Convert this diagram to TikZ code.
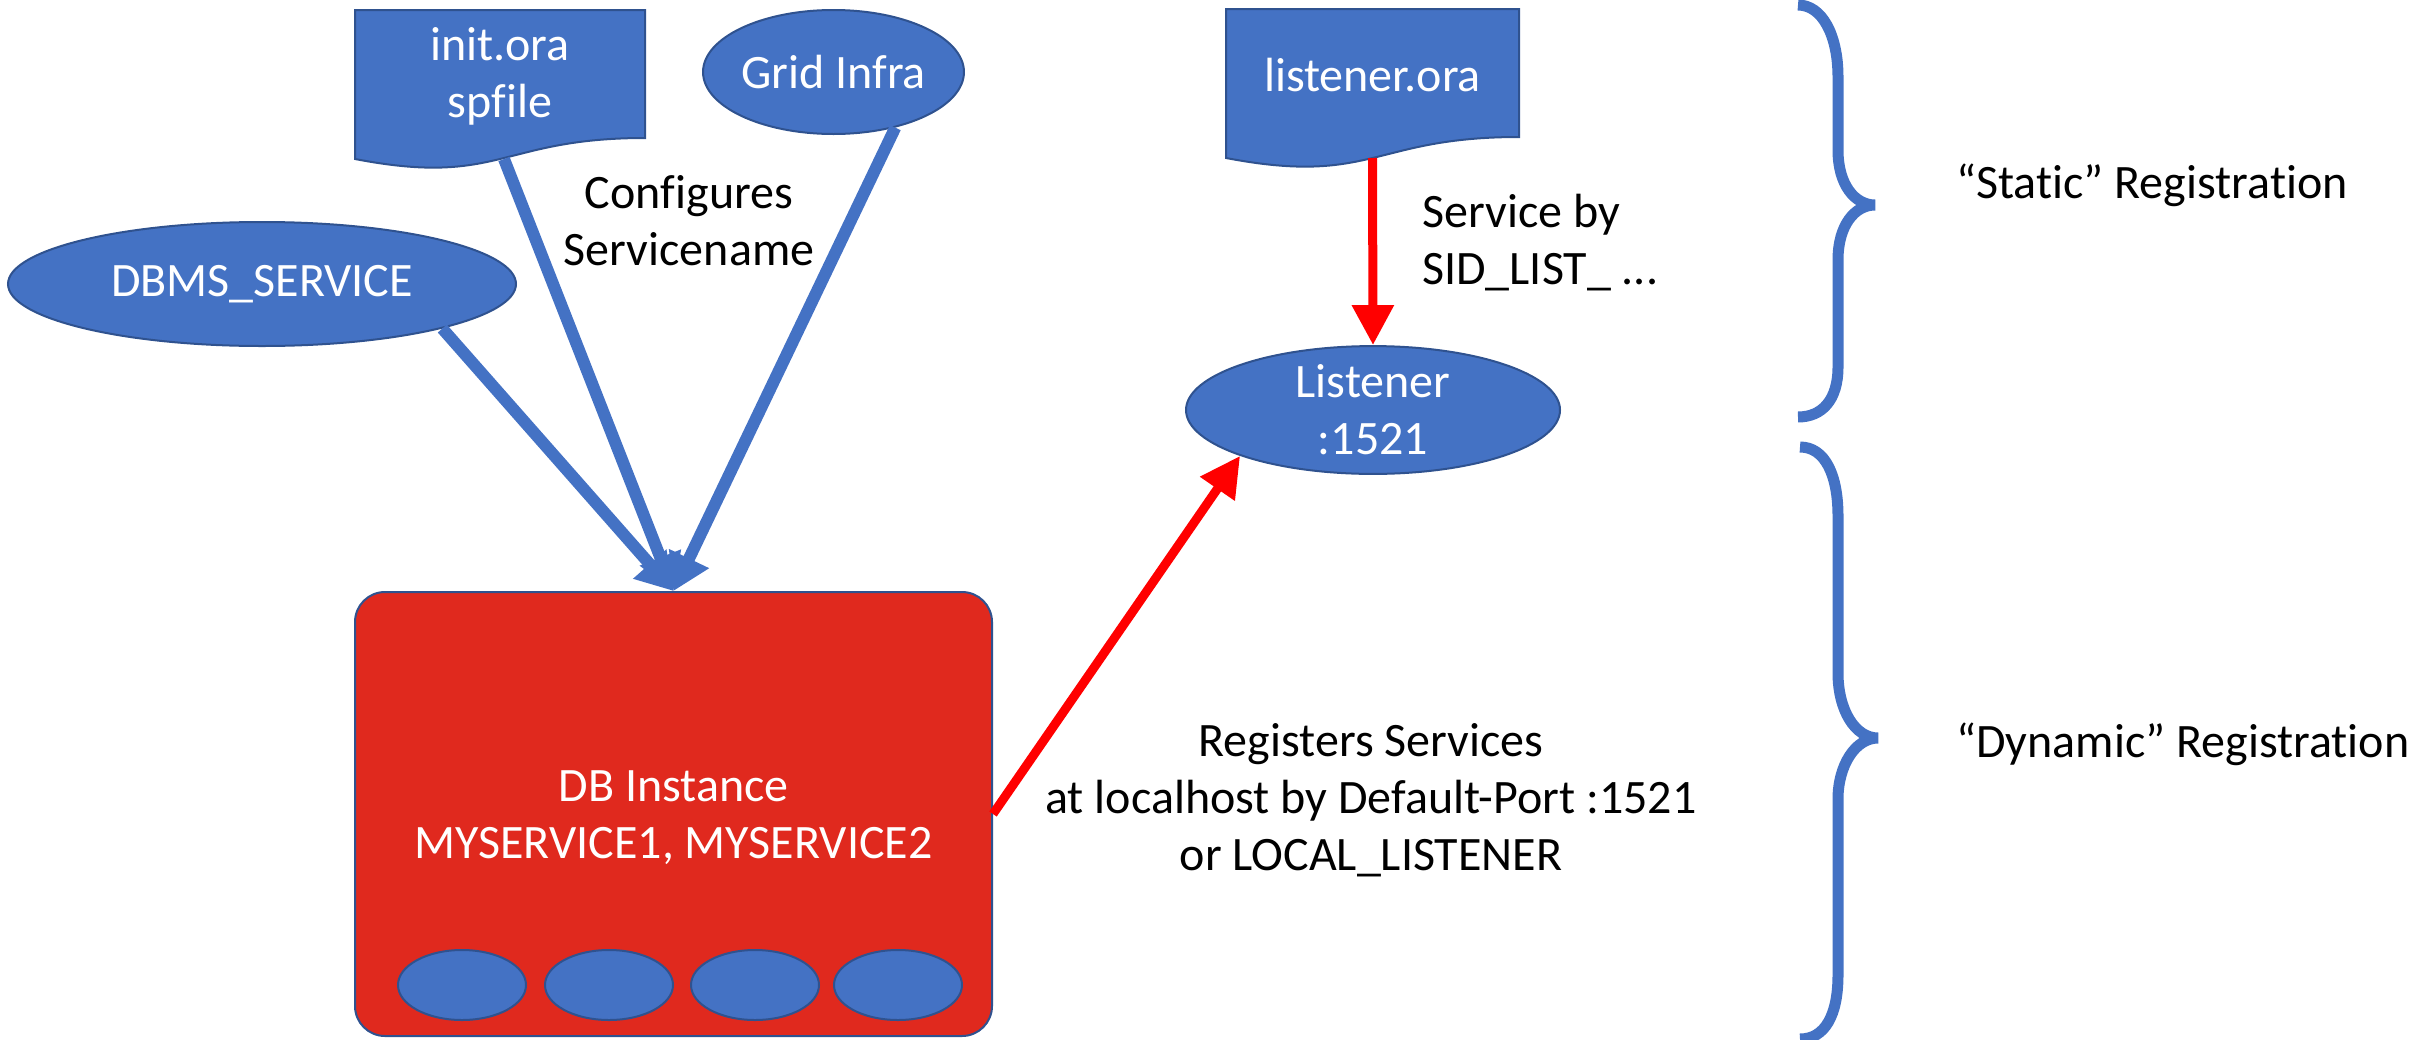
\documentclass[tikz,border=0pt]{standalone}
\usepackage{fontspec}
\setmainfont{Carlito}[Ligatures=NoCommon]
\usetikzlibrary{arrows.meta,shapes.geometric}
\definecolor{oblue}{RGB}{68,114,196}
\definecolor{oborder}{RGB}{47,82,143}
\definecolor{ored}{RGB}{224,41,30}
\definecolor{pured}{RGB}{255,0,0}
\begin{document}
\begin{tikzpicture}[x=1pt,y=-1pt,
  txt/.style={font=\fontsize{48}{57}\selectfont, align=center, inner sep=0pt},
  blob/.style={ellipse, fill=oblue, draw=oborder, line width=2pt, text=white, inner sep=0pt,
    font=\fontsize{48}{57}\selectfont, align=center},
  docshape/.style={fill=oblue, draw=oborder, line width=2pt},
  bluearrow/.style={draw=oblue, line width=12pt, -{Triangle[length=36pt,width=42pt]}},
  redarrow/.style={draw=pured, line width=9pt, -{Triangle[length=40pt,width=40pt]}},
  bracestyle/.style={draw=oblue, line width=11pt},
  smallcirc/.style={ellipse, fill=oblue, draw=oborder, line width=2pt, minimum width=128pt, minimum height=70pt, inner sep=0pt}
]
\useasboundingbox (0,0) rectangle (2436,1039);

% documents
\path[docshape] (355,10) -- (645,10) -- (645,138) .. controls (500,138) and (500,187) .. (355,159) -- cycle;
\node[txt, text=white] (initora) at (500,76) {init.ora\\spfile};
\coordinate (initbot) at (504,159);

\path[docshape] (1226,9) -- (1519,9) -- (1519,137) .. controls (1372.5,137) and (1372.5,186) .. (1226,158) -- cycle;
\node[txt, text=white] (lora) at (1372.5,75) {listener.ora};
\coordinate (lorabot) at (1372.5,158);

% ellipses
\node[blob, minimum width=247pt, minimum height=124pt] (grid) at (833.5,72) {Grid Infra};
\node[blob, minimum width=508pt, minimum height=124pt] (dbms) at (262,284) {DBMS\_SERVICE};
\node[blob, minimum width=374pt, minimum height=124pt] (listener) at (1373,410) {Listener\\:1521};

% DB instance
\node[rectangle, rounded corners=30pt, fill=ored, draw=oborder, line width=2pt,
  minimum width=637pt, minimum height=444pt, inner sep=0pt] (db) at (673.5,814) {};
\node[txt, text=white] (dbtext) at (673.5,818) {DB Instance\\MYSERVICE1, MYSERVICE2};
\node[smallcirc] (c1) at (462,985) {};
\node[smallcirc] (c2) at (609,985) {};
\node[smallcirc] (c3) at (755,985) {};
\node[smallcirc] (c4) at (898,985) {};

% blue arrows
\draw[bluearrow] (dbms.south east) -- (db.north);
\draw[bluearrow] (initbot) -- (db.north);
\draw[bluearrow] (grid.-42) -- (db.north);

% red arrows
\draw[redarrow] (lorabot) -- (listener.north);
\draw[redarrow] (db.east) -- (listener.south west);

% labels
\node[txt] (conf) at (689,221) {Configures\\Servicename};
\node[txt, anchor=west, align=left] (svcby) at (1422,243) {Service by\\SID\_LIST\_ ...};
\node[txt] (reg) at (1371,800) {Registers Services\\at localhost by Default-Port :1521\\or LOCAL\_LISTENER};

% braces
\draw[bracestyle] (1798,5) .. controls (1822,5) and (1838,35) .. (1838,77) -- (1838,150)
  .. controls (1838,185) and (1855,205) .. (1875,205)
  .. controls (1855,205) and (1838,225) .. (1838,260) -- (1838,367)
  .. controls (1838,400) and (1822,417) .. (1798,417);
\draw[bracestyle] (1800,447) .. controls (1825,447) and (1838,475) .. (1838,516) -- (1838,673)
  .. controls (1838,710) and (1855,738) .. (1878,738)
  .. controls (1855,738) and (1838,766) .. (1838,799) -- (1838,975)
  .. controls (1838,1015) and (1825,1039) .. (1800,1039);

\node[txt, anchor=west] (static) at (1956,185) {“Static” Registration};
\node[txt, anchor=west] (dynamic) at (1956,744) {“Dynamic” Registration};
\end{tikzpicture}
\end{document}
